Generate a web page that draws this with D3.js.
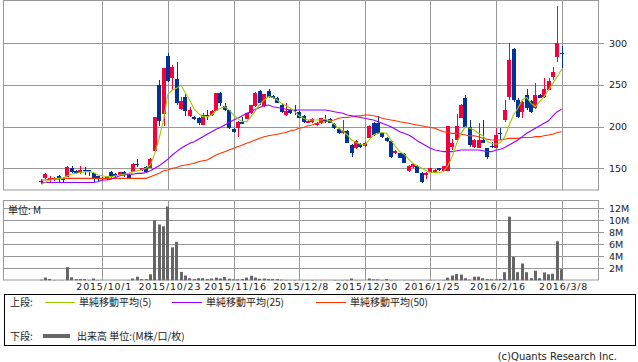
<!DOCTYPE html>
<html>
<head>
<meta charset="utf-8">
<script src="https://cdn.jsdelivr.net/npm/d3@7"></script>
<style>
  body { margin: 0; background: #fff; }
  text { font-family: "DejaVu Sans", sans-serif; fill: #222; }
  .jp { font-family: "Noto Sans CJK JP", sans-serif; }
</style>
</head>
<body>
<div id="chart"></div>
<script>
// trading days
var dates = [
  "2015/9/8","2015/9/9","2015/9/10","2015/9/11","2015/9/14","2015/9/15","2015/9/16","2015/9/17","2015/9/18","2015/9/24","2015/9/25","2015/9/28","2015/9/29","2015/9/30",
  "2015/10/1","2015/10/2","2015/10/5","2015/10/6","2015/10/7","2015/10/8","2015/10/9","2015/10/13","2015/10/14","2015/10/15","2015/10/16","2015/10/19","2015/10/20","2015/10/21","2015/10/22",
  "2015/10/23","2015/10/26","2015/10/27","2015/10/28","2015/10/29","2015/10/30","2015/11/2","2015/11/4","2015/11/5","2015/11/6","2015/11/9","2015/11/10","2015/11/11","2015/11/12","2015/11/13",
  "2015/11/16","2015/11/17","2015/11/18","2015/11/19","2015/11/20","2015/11/24","2015/11/25","2015/11/26","2015/11/27","2015/11/30","2015/12/1","2015/12/2","2015/12/3","2015/12/4","2015/12/7",
  "2015/12/8","2015/12/9","2015/12/10","2015/12/11","2015/12/14","2015/12/15","2015/12/16","2015/12/17","2015/12/18","2015/12/21","2015/12/22","2015/12/24","2015/12/25","2015/12/28","2015/12/29",
  "2015/12/30","2016/1/4","2016/1/5","2016/1/6","2016/1/7","2016/1/8","2016/1/12","2016/1/13","2016/1/14","2016/1/15","2016/1/18","2016/1/19","2016/1/20","2016/1/21","2016/1/22",
  "2016/1/25","2016/1/26","2016/1/27","2016/1/28","2016/1/29","2016/2/1","2016/2/2","2016/2/3","2016/2/4","2016/2/5","2016/2/8","2016/2/9","2016/2/10","2016/2/12","2016/2/15",
  "2016/2/16","2016/2/17","2016/2/18","2016/2/19","2016/2/22","2016/2/23","2016/2/24","2016/2/25","2016/2/26","2016/2/29","2016/3/1","2016/3/2","2016/3/3","2016/3/4","2016/3/7",
  "2016/3/8"
];

var open = [134.5,139,136,136,141,139,140,150,147,144,148,148,144,141,
  137,140,146,143,142,146,142,146,155,148,152,151,171,250,215,
  285,259,257,221,236,213,212,211,202,214,214,219,241,225,220,
  197,198,206,209,216,225,243,225,243,237,235,226,214,220,220,
  218,213,205,206,202,204,209,209,203,197,192,195,178,174,179,
  177,187,204,204,193,187,183,168,168,167,147,152,153,145,142,
  146,146,150,147,147,176,184,210,234,200,176,174,184,174,177,
  174,193,208,236,293,232,218,238,231,222,238,236,244,260,284,
  288];
var high = [137,145,141,140,142,140,153,153,148,153,152,148.5,145,141,
  140,141,147,144,146,147,143,156,161,151,153,162,212,256,270,
  289,274,278,236,239,224,213,212,216,220,220,240,242,228,220,
  198,207,212,217,226,242,244,239,245,238,236,227,228,221,226,
  219,214,208,210,206,210,214,210,204,198,208,196,179,184,180,
  182,202,206,213,194,188,184,172,169,168,154,156,154,146,146,
  151,149,151,153,201,185,215,227,238,208,185,205,208,175,182,
  198,199,232,300,295,234,231,245,232,252,239,259,259,272,345,
  297];
var low = [131,137,134,135,133,134,140,144,143,143,142,141,134,134,
  136,136,139,140,141,140,138,146,152,147,145,150,171,201,201,
  254,244,226,220,213,212,208,202,202,208,213,219,225,219,197,
  193,188,203,209,215,224,226,224,234,233,228,217,213,215,214,
  210,205,204,205,201,203,205,204,197,191,191,180,164,173,175,
  176,187,189,191,187,182,163,167,162,156,146,151,144,133,137,
  145,145,147,147,147,172,184,210,199,176,175,174,180,161,174,
  174,184,206,232,230,210,210,220,217,221,234,234,244,256,278,
  270];
var close = [134,143,139,139,137,136,152,146,144,148,147,147.5,137,137,
  139,137,140,141,146,142,139,155,154.5,151,146,161,212,207,270,
  255,272,228,231,219,220,209,205,214,212,219,240,229,220,199,
  194,206,203,216,226,240,228,239,236,234,229,218,219,216,219,
  211,206,207,209,205,210,207,205,198,192,195,181,169,183,176,
  181,201,190,192,188,183,164,171,163,157,153,155,145,134,145,
  150,148,148,153,201,180,201,226,200,178,184,184,180,164,176.5,
  190,192,220,280,232,212,230,223,218,238,235,245,255,266,301,
  287];

// volume, M shares
var volume = [0.1,0.45,0.2,0.05,0.03,0.03,2.2,0.5,0.2,0.2,0.2,0.05,0.3,0.05,
  0.02,0.02,0.02,0.02,0.03,0.03,0.05,0.3,0.6,0.2,0.2,1.0,10.0,9.3,9.0,
  12.3,5.5,6.4,1.4,0.8,0.35,0.2,0.35,0.35,0.2,0.3,0.45,0.3,0.55,0.25,
  0.15,0.15,0.2,0.45,0.75,0.45,0.25,0.3,0.2,0.2,0.2,0.1,0.05,0.02,0.05,
  0.02,0.05,0.03,0.05,0.02,0.03,0.02,0.02,0.05,0.03,0.05,0.05,0.3,0.05,0.03,
  0.02,0.3,0.15,0.15,0.05,0.2,0.05,0.03,0.02,0.03,0.02,0.05,0.03,0.02,0.03,
  0.05,0.03,0.02,0.05,0.45,0.8,1.05,0.95,0.35,0.1,0.6,0.6,0.35,0.2,0.15,
  0.15,0.2,1.35,10.6,3.9,1.35,2.8,1.35,0.35,1.6,0.35,1.3,1.0,1.1,6.5,
  1.85];

var ma5 = [131,133,136,137,138,138,141,143,144,145,146,146,145,142,
  141,140,140,141,142,143,144,146,147,148,150,154,168,186,208,
  239,244,246,250,240,232,221,216,212,212,214,219,222,224,220,
  214,210,206,206,212,219,227,232,236,235,232,228,225,222,218,
  213,210,208,208,208,208,209,207,203,198,195,190,184,181,179,
  178,184,190,192,193,192,184,176,170,167,161,156,153,150,147,
  145,145,145,146,153,164,180,192,200,198,196,192,189,182,180,
  179,181,188,202,214,222,232,235,228,224,230,236,244,252,260,
  269];
var ma25 = [133,133,133,133,133,133,133,133,133,133,133,133,133,134,
  136,136,137,139,141,142,143,143,144,144,145,147,150,153,157,
  161,166,170,174,177,180,182,185,188,191,194,197,199,202,205,
  208,210,213,216,218,221,223,225,226,224,223,222,221,220,220,
  220,220,220,220,220,220,220,219,218,217,216,214,213,212,211,
  210,209,208,206,204,202,200,197,194,192,190,187,183,180,177,
  174,172,171,170,170,170,171,172,172,172,172,172,171,170,170,
  172,173,175,178,181,184,188,192,195,198,201,204,207,213,218,
  221];
var ma50 = [136,136,137,137,137,138,138,138,138,138,138,138,138,138,
  138,138,138,138,138,138,138,138,138,138,138,140,142,144,147,
  148,150,151,153,154,155,156,158,159,160,163,166,168,170,172,
  174,176,178,180,182,184,186,188,189,190,191,192,193,195,196,
  198,199,201,202,204,205,206,207,208,210,211,211,212,213,213,
  214,214,213,212,210,209,208,207,206,205,204,203,202,201,200,
  199,198,196,194,193,192,192,191,190,189,189,188,186,185,184,
  184,184,185,186,186,186,187,187,187,188,188,189,190,191,193,
  194];

var tickDates = ["2015/10/1","2015/10/23","2015/11/16","2015/12/8","2015/12/30","2016/1/25","2016/2/16","2016/3/8"];
var priceTicks = [150, 200, 250, 300];
var volTicks = [2, 4, 6, 8, 10, 12];

var W = 638, H = 362;
var upColor = "#f5003d", downColor = "#003399", gridColor = "#999";

var svg = d3.select("#chart").append("svg")
    .attr("width", W)
    .attr("height", H);

var x = d3.scaleLinear().domain([-8.69, 127.31]).range([3, 598]);
var y = d3.scaleLinear().domain([124, 352]).range([190, 0]);
var yv = d3.scaleLinear().domain([0, 13.25]).range([280.3, 200.8]);

var idx = d3.range(dates.length);
var tickIdx = tickDates.map(function(d) { return dates.indexOf(d); });

function px(v) { return Math.round(v) + 0.5; }

// grid lines, main panel
var grid = svg.append("g").attr("stroke", gridColor).attr("stroke-width", 1);
priceTicks.forEach(function(t) {
    grid.append("line")
        .attr("x1", 3).attr("x2", 604)
        .attr("y1", px(y(t))).attr("y2", px(y(t)));
});
volTicks.forEach(function(t) {
    grid.append("line")
        .attr("x1", 3).attr("x2", 604)
        .attr("y1", px(yv(t))).attr("y2", px(yv(t)));
});
tickIdx.forEach(function(i) {
    grid.append("line")
        .attr("x1", px(x(i))).attr("x2", px(x(i)))
        .attr("y1", 0).attr("y2", 190);
    grid.append("line")
        .attr("x1", px(x(i))).attr("x2", px(x(i)))
        .attr("y1", 201).attr("y2", 280);
});

// panel frames
svg.append("rect")
    .attr("x", 3.5).attr("y", 0.5).attr("width", 595).attr("height", 189.5)
    .attr("fill", "none").attr("stroke", gridColor);
svg.append("rect")
    .attr("x", 3.5).attr("y", 200.5).attr("width", 595).attr("height", 79.5)
    .attr("fill", "none").attr("stroke", gridColor);

// right axis labels
svg.append("g").selectAll("text")
    .data(priceTicks)
    .enter().append("text")
    .attr("x", 609)
    .attr("y", function(d) { return y(d); })
    .attr("dy", "0.35em")
    .style("font-size", "9.5px")
    .text(function(d) { return d; });

svg.append("g").selectAll("text")
    .data(volTicks)
    .enter().append("text")
    .attr("x", 609)
    .attr("y", function(d) { return yv(d); })
    .attr("dy", "0.35em")
    .style("font-size", "9.5px")
    .text(function(d) { return d + "M"; });

// date labels
svg.append("g").selectAll("text")
    .data(tickIdx)
    .enter().append("text")
    .attr("x", function(i) { return x(i) + 2; })
    .attr("y", 290)
    .attr("text-anchor", "middle")
    .style("font-size", "9.5px")
    .style("letter-spacing", "0.8px")
    .text(function(i) { return dates[i]; });

// volume bars
svg.append("g").selectAll("rect")
    .data(idx)
    .enter().append("rect")
    .attr("x", function(i) { return Math.round(x(i) - 1.5); })
    .attr("y", function(i) { return yv(volume[i]); })
    .attr("width", 3)
    .attr("height", function(i) { return yv(0) - yv(volume[i]); })
    .attr("fill", "#666");

svg.append("text")
    .attr("class", "jp")
    .attr("x", 8).attr("y", 210)
    .attr("dy", "0.35em")
    .style("font-size", "10px")
    .text("単位: M");

// candles
var candles = svg.append("g").attr("shape-rendering", "crispEdges");
candles.selectAll("rect.wick")
    .data(idx)
    .enter().append("rect")
    .attr("class", "wick")
    .attr("x", function(i) { return Math.round(x(i) - 2) + 1.5; })
    .attr("y", function(i) { return y(high[i]); })
    .attr("width", 1)
    .attr("height", function(i) { return Math.max(1, y(low[i]) - y(high[i])); })
    .attr("fill", function(i) { return close[i] >= open[i] ? upColor : downColor; });

candles.selectAll("rect.body")
    .data(idx)
    .enter().append("rect")
    .attr("class", "body")
    .attr("x", function(i) { return Math.round(x(i) - 2); })
    .attr("y", function(i) { return y(Math.max(open[i], close[i])); })
    .attr("width", 4)
    .attr("height", function(i) { return Math.max(1, Math.abs(y(open[i]) - y(close[i]))); })
    .attr("fill", function(i) { return close[i] >= open[i] ? upColor : downColor; });

// moving averages
var maList = [
    {vals: ma50, color: "#ff3300"},
    {vals: ma25, color: "#9900ff"},
    {vals: ma5, color: "#99cc00"}
];
maList.forEach(function(m) {
    var line = d3.line()
        .x(function(i) { return x(i); })
        .y(function(i) { return y(m.vals[i]); });
    svg.append("path")
        .datum(idx)
        .attr("d", line)
        .attr("fill", "none")
        .attr("stroke", m.color)
        .attr("stroke-width", 1.1);
});

// legend
var lg = svg.append("g");
lg.append("rect")
    .attr("x", 4.5).attr("y", 294.5).attr("width", 631).attr("height", 51)
    .attr("fill", "none").attr("stroke", "#000");

lg.append("text").attr("class", "jp").attr("x", 10).attr("y", 302).attr("dy", "0.35em")
    .style("font-size", "10px").text("上段:");
var legendItems = [
    {x: 45, color: "#99cc00", label: "単純移動平均(5)"},
    {x: 172, color: "#9900ff", label: "単純移動平均(25)"},
    {x: 316, color: "#ff3300", label: "単純移動平均(50)"}
];
legendItems.forEach(function(d) {
    lg.append("line")
        .attr("x1", d.x).attr("x2", d.x + 30)
        .attr("y1", 302.5).attr("y2", 302.5)
        .attr("stroke", d.color);
    lg.append("text").attr("class", "jp")
        .attr("x", d.x + 34).attr("y", 302).attr("dy", "0.35em")
        .style("font-size", "10px")
        .text(d.label);
});

lg.append("text").attr("class", "jp").attr("x", 10).attr("y", 336).attr("dy", "0.35em")
    .style("font-size", "10px").text("下段:");
lg.append("line")
    .attr("x1", 43).attr("x2", 70)
    .attr("y1", 336).attr("y2", 336)
    .attr("stroke", "#666").attr("stroke-width", 4);
lg.append("text").attr("class", "jp").attr("x", 77).attr("y", 336).attr("dy", "0.35em")
    .style("font-size", "10px").text("出来高 単位:(M株/口/枚)");

svg.append("text")
    .attr("x", 617).attr("y", 356)
    .attr("dy", "0.35em")
    .attr("text-anchor", "end")
    .style("font-size", "10px")
    .text("(c)Quants Research Inc.");
</script>
</body>
</html>
